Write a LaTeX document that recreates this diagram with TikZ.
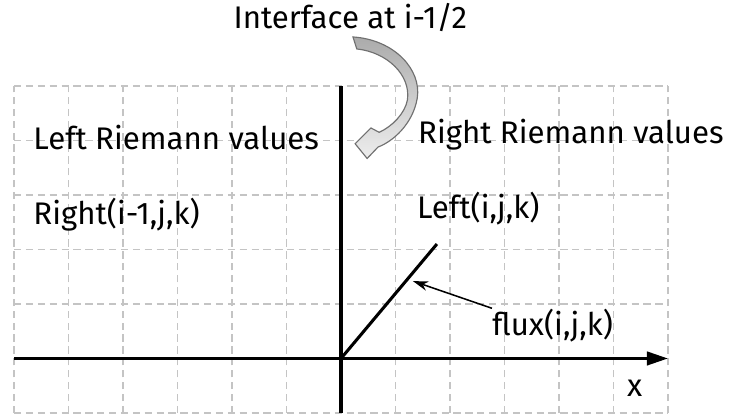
\documentclass[tikz,border=0pt]{standalone}
\usepackage{fontspec}
\setmainfont{Fira Sans}
\usetikzlibrary{arrows.meta,positioning}
\definecolor{gridgray}{RGB}{196,196,196}
\definecolor{bendgray}{RGB}{112,112,112}
\tikzset{
  cellgrid/.style={draw=gridgray,line width=1pt,dash pattern=on 3.8pt off 2.4pt},
  axis/.style={draw=black,line width=1.6pt},
  xaxis/.style={axis,-{Triangle[length=11pt,width=7pt]}},
  fluxline/.style={draw=black,line width=1.6pt},
  pointer/.style={-{Stealth[length=8pt,width=5pt]},draw=black,line width=0.8pt},
  lbl/.style={inner sep=0pt,font=\fontsize{16.3}{19}\selectfont},
  turnarrow/.style={draw=bendgray,line width=0.6pt,top color=black!33,bottom color=black!7}
}
\begin{document}
\begin{tikzpicture}
  \useasboundingbox (-0.257,-0.092) rectangle (13.12,7.578);
  % dashed cells
  \foreach \i in {0,...,12} \draw[cellgrid] (\i,0) -- (\i,6);
  \foreach \j in {0,...,6} \draw[cellgrid] (0,\j) -- (12,\j);
  % axes
  \coordinate (orig) at (6,1);
  \coordinate (xend) at (12,1);
  \draw[xaxis] (0,1) -- (xend);
  \draw[axis] (6,0) -- (6,6);
  \coordinate (ftop) at (7.76,3.10);
  \draw[fluxline] (orig) -- (ftop);
  % labels
  \node[lbl,anchor=base] (iface) at (6.17,7.06) {Interface at i-1/2};
  \node[lbl,anchor=base west] (leftrv) at (0.35,4.84) {Left Riemann values};
  \node[lbl,anchor=base west] (rightrv) at (7.41,4.95) {Right Riemann values};
  \node[lbl,anchor=base west] (rightim) at (0.35,3.45) {Right(i-1,j,k)};
  \node[lbl,anchor=base west] (lefti) at (7.39,3.56) {Left(i,j,k)};
  \node[lbl,anchor=base west] (flux) at (8.77,1.43) {flux(i,j,k)};
  \node[lbl,anchor=base] (xlbl) at (11.39,0.31) {x};
  \coordinate (fluxtip) at (7.32,2.42);
  \draw[pointer] (flux.north west) -- (fluxtip);
  % curved arrow from the interface label
  \path[turnarrow] (6.22,6.90) .. controls (6.98,6.85) and (7.48,6.3) .. (7.40,5.78)
    .. controls (7.32,5.3) and (6.95,4.98) .. (6.68,4.88) -- (6.48,4.67)
    -- (6.26,4.94) -- (6.55,5.23) -- (6.70,5.15)
    .. controls (6.93,5.25) and (7.18,5.5) .. (7.22,5.75)
    .. controls (7.28,6.2) and (6.85,6.62) .. (6.29,6.68) -- cycle;
\end{tikzpicture}
\end{document}
